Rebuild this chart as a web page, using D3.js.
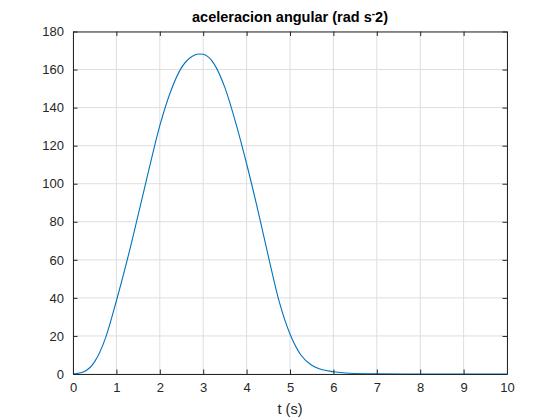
<!DOCTYPE html>
<html>
<head>
<meta charset="utf-8">
<script src="https://cdn.jsdelivr.net/npm/d3@7"></script>
<style>
  html, body { margin: 0; padding: 0; background: #ffffff; }
  svg { display: block; }
</style>
</head>
<body>
<svg id="chart" width="560" height="420"></svg>
<script>
const tValues = [0, 0.25, 0.5, 0.75, 1.0, 1.25, 1.5, 1.75, 2.0, 2.25, 2.5, 2.75, 2.9, 3.0, 3.25, 3.5, 3.75, 4.0, 4.25, 4.5, 4.75, 5.0, 5.25, 5.5, 5.75, 6.0, 6.5, 7, 8, 9, 10];
const accelValues = [0, 1.2, 6.5, 19, 38.5, 60, 83.5, 107.5, 130.5, 148.5, 161, 167, 168.2, 168, 163, 150.5, 132, 110.5, 87, 62, 38.2, 21, 10, 4.6, 2.2, 1.2, 0.3, 0.1, 0, 0, 0];
const xTicks = [0, 1, 2, 3, 4, 5, 6, 7, 8, 9, 10];
const yTicks = [0, 20, 40, 60, 80, 100, 120, 140, 160, 180];
const titleMain = "aceleracion angular (rad s";
const titleSup = "-";
const titleEnd = "2)";
const xLabel = "t (s)";

const svg = d3.select("#chart");
const pLeft = 73, pRight = 507, pTop = 31.5, pBottom = 374;
const x = d3.scaleLinear().domain([0, 10]).range([pLeft, pRight]);
const y = d3.scaleLinear().domain([0, 180]).range([pBottom, pTop]);
const axisColor = "#262626";
const font = "'Liberation Sans', Arial, Helvetica, sans-serif";

// grid
const grid = svg.append("g");
grid.selectAll("line.gx").data(xTicks).enter().append("line")
  .attr("x1", d => x(d)).attr("x2", d => x(d))
  .attr("y1", pTop).attr("y2", pBottom)
  .attr("stroke", "#dedede").attr("stroke-width", 1);
grid.selectAll("line.gy").data(yTicks).enter().append("line")
  .attr("y1", d => y(d)).attr("y2", d => y(d))
  .attr("x1", pLeft).attr("x2", pRight)
  .attr("stroke", "#dedede").attr("stroke-width", 1);

// data line
const line = d3.line()
  .x((d, i) => x(tValues[i]))
  .y(d => y(d))
  .curve(d3.curveMonotoneX);
svg.append("path")
  .datum(accelValues)
  .attr("d", line)
  .attr("fill", "none")
  .attr("stroke", "#0072BD")
  .attr("stroke-width", 1.1);

// axes
const tickLen = 4.5;
const fmt = d3.format("d");
const xAxisB = d3.axisBottom(x).tickValues(xTicks).tickSizeInner(-tickLen).tickSizeOuter(0).tickPadding(9).tickFormat(fmt);
const xAxisT = d3.axisTop(x).tickValues(xTicks).tickSizeInner(-tickLen).tickSizeOuter(0).tickFormat("");
const yAxisL = d3.axisLeft(y).tickValues(yTicks).tickSizeInner(-tickLen).tickSizeOuter(0).tickPadding(9).tickFormat(fmt);
const yAxisR = d3.axisRight(y).tickValues(yTicks).tickSizeInner(-tickLen).tickSizeOuter(0).tickFormat("");

function style(g) {
  g.selectAll("path.domain").attr("stroke", axisColor).attr("stroke-width", 1);
  g.selectAll(".tick line").attr("stroke", axisColor).attr("stroke-width", 1);
  g.selectAll(".tick text").attr("fill", axisColor).attr("font-family", font).attr("font-size", 13);
}
svg.append("g").attr("transform", `translate(0,${pBottom})`).call(xAxisB).call(style);
svg.append("g").attr("transform", `translate(0,${pTop})`).call(xAxisT).call(style);
svg.append("g").attr("transform", `translate(${pLeft},0)`).call(yAxisL).call(style);
svg.append("g").attr("transform", `translate(${pRight},0)`).call(yAxisR).call(style);

// title
const title = svg.append("text")
  .attr("x", (pLeft + pRight) / 2).attr("y", 22)
  .attr("text-anchor", "middle")
  .attr("font-family", font).attr("font-size", 14.5).attr("font-weight", "bold")
  .attr("fill", "#000");
title.append("tspan").text(titleMain);
title.append("tspan").attr("dy", -5).attr("font-size", 10).text(titleSup);
title.append("tspan").attr("dy", 5).text(titleEnd);

// x label
svg.append("text")
  .attr("x", (pLeft + pRight) / 2).attr("y", 414)
  .attr("text-anchor", "middle")
  .attr("font-family", font).attr("font-size", 14.5)
  .attr("fill", axisColor)
  .text(xLabel);
</script>
</body>
</html>
